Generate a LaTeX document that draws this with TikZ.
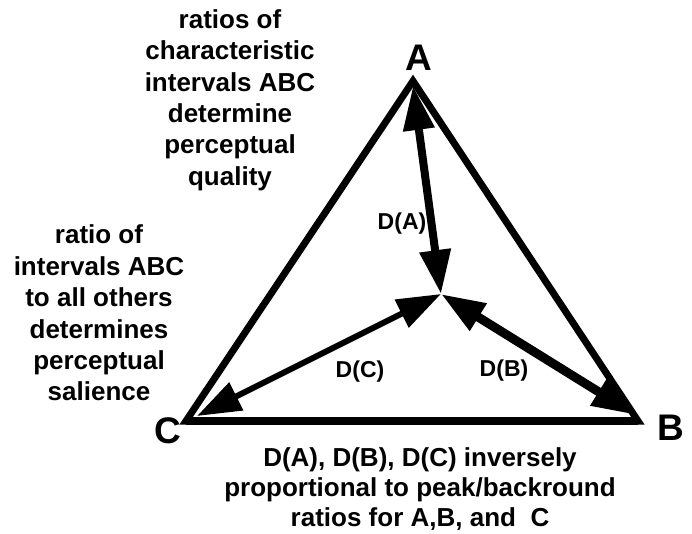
\documentclass[tikz,border=0pt]{standalone}
\usepackage{fontspec}
\setmainfont{Liberation Sans}
\usetikzlibrary{arrows.meta}
\tikzset{
  edge/.style={line width=7pt, line join=miter},
  darrow/.style={{Triangle[length=44pt,width=30pt]}-{Triangle[length=44pt,width=30pt]}},
  note/.style={align=center, font=\bfseries\fontsize{26}{31.4}\selectfont, inner sep=0pt},
  bnote/.style={align=center, font=\bfseries\fontsize{26}{30}\selectfont, inner sep=0pt},
  vlabel/.style={font=\bfseries\fontsize{37}{40}\selectfont, inner sep=0pt},
  dlabel/.style={font=\bfseries\fontsize{23}{26}\selectfont, inner sep=0pt}
}
\begin{document}
\begin{tikzpicture}[x=1pt,y=-1pt]
\useasboundingbox (0,0) rectangle (692,533);
\coordinate (A) at (413,81);
\coordinate (B) at (638,421);
\coordinate (C) at (186,421);
\coordinate (O) at (441,294);
\coordinate (Aend) at (413,86);
\coordinate (Bend) at (636,415);
\coordinate (Cend) at (197,416);
\draw[edge] (C) -- (A) -- (B) -- cycle;
\draw[line width=8pt] (C) -- (B);
\draw[darrow, line width=8pt] (O) -- (Aend);
\draw[darrow, line width=6pt] (O) -- (Cend);
\draw[darrow, line width=9pt] (O) -- (Bend);
\node[vlabel] (la) at (419,58) {A};
\node[vlabel] (lb) at (671,428) {B};
\node[vlabel] (lc) at (168,431) {C};
\node[dlabel] (da) at (402,224) {D(A)};
\node[dlabel] (dc) at (360,372) {D(C)};
\node[dlabel] (db) at (504,371) {D(B)};
\node[note] (top) at (230,100) {ratios of\\characteristic\\intervals ABC\\determine\\perceptual\\quality};
\node[note] (left) at (99,313) {ratio of\\intervals ABC\\to all others\\determines\\perceptual\\salience};
\node[bnote] (bottom) at (420,489.5) {D(A), D(B), D(C) inversely\\proportional to peak/backround\\ratios for A,B, and\ \ C};
\end{tikzpicture}
\end{document}
